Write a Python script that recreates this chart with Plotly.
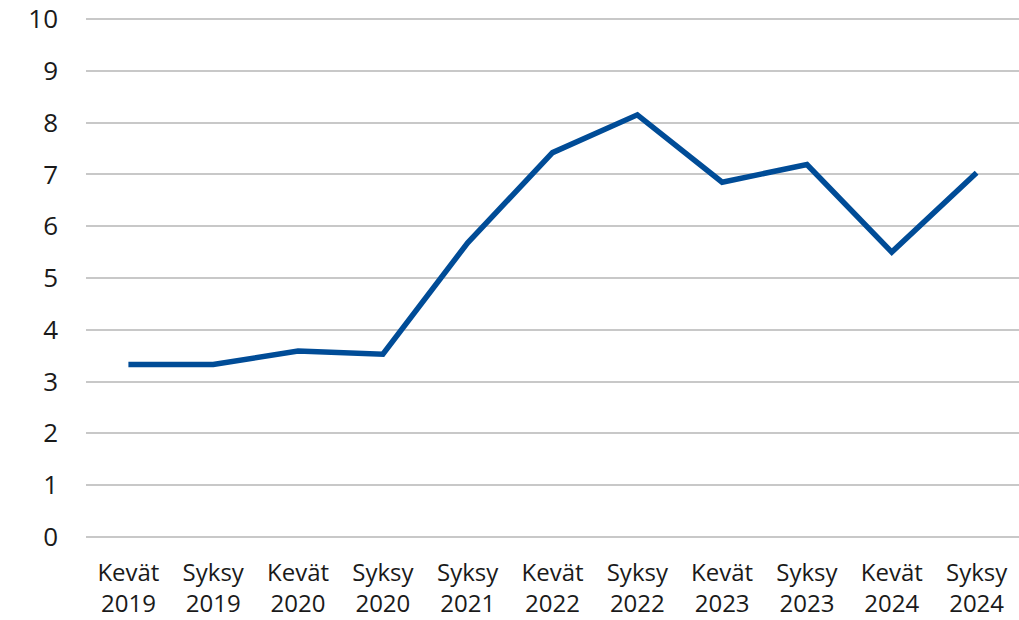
import plotly.graph_objects as go

seasons = ["Kevät", "Syksy", "Kevät", "Syksy", "Syksy", "Kevät",
           "Syksy", "Kevät", "Syksy", "Kevät", "Syksy"]
years = ["2019", "2019", "2020", "2020", "2021", "2022",
         "2022", "2023", "2023", "2024", "2024"]
values = [3.33, 3.33, 3.59, 3.53, 5.68, 7.42, 8.15, 6.85, 7.19, 5.50, 7.03]

categories = [f"{s}<br>{y}" for s, y in zip(seasons, years)]

fig = go.Figure()
fig.add_trace(go.Scatter(
    x=categories, y=values, mode="lines",
    line=dict(color="#004C97", width=5.5),
    hoverinfo="x+y",
))

fig.update_layout(
    width=1019, height=620,
    margin=dict(l=86, r=0, t=18, b=82),
    paper_bgcolor="white", plot_bgcolor="white",
    font=dict(family="Open Sans", size=26, color="#1a1a1a"),
    showlegend=False,
    xaxis=dict(
        type="category", range=[-0.5, 10.5],
        showgrid=False, showline=False, zeroline=False,
        ticks="", tickfont=dict(size=24),
        ticklabelstandoff=18, automargin=False,
    ),
    yaxis=dict(
        range=[-0.02, 10.02], dtick=1,
        showgrid=True, gridcolor="#c8c8c8", gridwidth=2,
        zeroline=False, showline=False, ticks="",
        ticklabelstandoff=27, automargin=False,
    ),
)

# drop the default 8px body margin so the figure fills the window
fig.write_html("out.html", config={"displayModeBar": False},
               post_script="document.body.style.margin = '0';")
